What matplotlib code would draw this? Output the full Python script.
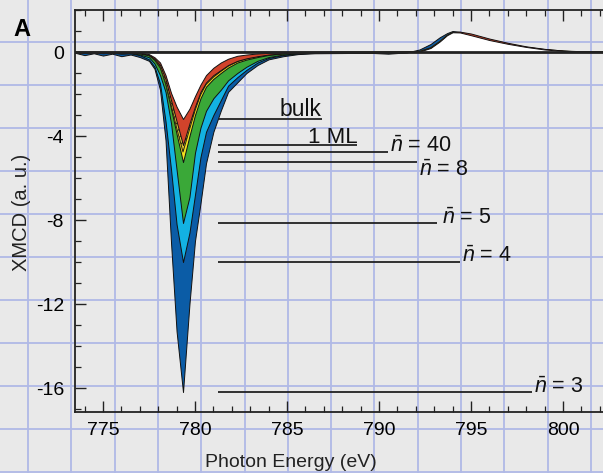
import matplotlib
matplotlib.use('Agg')
import matplotlib.pyplot as plt
import numpy as np
from matplotlib.ticker import MultipleLocator

plt.rcParams['font.family'] = ['Liberation Sans', 'DejaVu Sans']
plt.rcParams['mathtext.fontset'] = 'custom'
plt.rcParams['mathtext.rm'] = 'Liberation Sans'
plt.rcParams['mathtext.it'] = 'Liberation Sans:italic'
plt.rcParams['hatch.linewidth'] = 0.7
plt.rcParams['axes.unicode_minus'] = False

# ---------------- data ----------------
energy = [773.5, 774.0, 774.5, 775.0, 775.5, 776.0, 776.5, 777.0, 777.5, 777.8,
          778.1, 778.4, 778.7, 779.0, 779.35, 779.7, 780.0, 780.3, 780.6, 781.0,
          781.4, 781.8, 782.3, 782.8, 783.4, 784.0, 784.8, 785.6, 786.5, 788.0,
          789.5, 790.5, 791.5, 792.2, 792.8, 793.3, 793.7, 794.0, 794.4, 795.0,
          796.0, 797.0, 798.0, 799.0, 800.0, 801.0, 802.2]

n3 = [-0.04, -0.15, -0.06, -0.17, -0.08, -0.2, -0.12, -0.24, -0.42, -0.80,
      -1.80, -4.20, -9.10, -13.30, -16.19, -12.00, -9.00, -7.20, -5.30, -3.80,
      -2.80, -1.90, -1.45, -1.00, -0.62, -0.35, -0.20, -0.10, -0.06, -0.05,
      -0.04, -0.08, -0.02, 0.12, 0.38, 0.70, 0.90, 1.00, 0.96, 0.80,
      0.56, 0.38, 0.23, 0.12, 0.06, 0.02, 0.01]
n4 = [-0.03, -0.05, -0.03, -0.06, -0.04, -0.08, -0.06, -0.15, -0.35, -0.70,
      -1.50, -3.30, -5.60, -8.20, -10.00, -8.60, -6.80, -5.00, -3.80, -3.00,
      -2.30, -1.60, -1.20, -0.85, -0.50, -0.28, -0.14, -0.07, -0.04, -0.03,
      -0.02, -0.03, -0.01, 0.05, 0.22, 0.52, 0.80, 0.93, 0.93, 0.79,
      0.56, 0.38, 0.23, 0.12, 0.05, 0.015, 0.0]
n5 = [-0.02, -0.03, -0.02, -0.04, -0.03, -0.06, -0.05, -0.12, -0.25, -0.55,
      -1.10, -1.90, -3.40, -5.60, -8.14, -6.90, -4.80, -3.60, -2.80, -2.20,
      -1.80, -1.35, -1.00, -0.70, -0.42, -0.24, -0.12, -0.06, -0.03, -0.02,
      -0.02, -0.02, -0.01, 0.04, 0.21, 0.51, 0.80, 0.93, 0.93, 0.79,
      0.56, 0.38, 0.23, 0.12, 0.05, 0.015, 0.0]
n8 = [-0.01, -0.02, -0.01, -0.02, -0.02, -0.03, -0.03, -0.07, -0.16, -0.38,
      -0.75, -1.55, -2.70, -3.90, -5.24, -4.00, -3.00, -2.20, -1.65, -1.28,
      -1.00, -0.74, -0.50, -0.36, -0.24, -0.14, -0.07, -0.03, -0.02, -0.01,
      -0.01, -0.01, 0.0, 0.03, 0.20, 0.50, 0.80, 0.93, 0.92, 0.79,
      0.56, 0.38, 0.23, 0.12, 0.05, 0.015, 0.0]
n40 = [-0.01, -0.02, -0.01, -0.02, -0.02, -0.03, -0.03, -0.06, -0.15, -0.36,
       -0.70, -1.45, -2.50, -3.60, -4.76, -3.70, -2.80, -2.05, -1.55, -1.20,
       -0.93, -0.68, -0.46, -0.33, -0.22, -0.13, -0.06, -0.03, -0.02, -0.01,
       -0.01, -0.01, 0.0, 0.03, 0.20, 0.50, 0.80, 0.93, 0.92, 0.79,
       0.56, 0.38, 0.23, 0.12, 0.05, 0.015, 0.0]
ml1 = [-0.01, -0.01, -0.01, -0.02, -0.01, -0.02, -0.02, -0.05, -0.13, -0.32,
       -0.62, -1.30, -2.30, -3.30, -4.43, -3.40, -2.60, -1.90, -1.45, -1.10,
       -0.86, -0.62, -0.42, -0.30, -0.20, -0.12, -0.06, -0.03, -0.02, -0.01,
       -0.01, -0.01, 0.0, 0.03, 0.20, 0.50, 0.80, 0.95, 0.97, 0.88,
       0.64, 0.44, 0.27, 0.15, 0.07, 0.02, 0.0]
bulk = [0.0, -0.01, 0.0, -0.01, 0.0, -0.01, -0.01, -0.03, -0.10, -0.25,
        -0.50, -1.10, -1.95, -2.60, -3.19, -2.70, -2.10, -1.55, -1.10, -0.75,
        -0.50, -0.32, -0.18, -0.12, -0.07, -0.04, -0.02, -0.01, 0.0, 0.0,
        0.0, 0.0, 0.0, 0.02, 0.19, 0.50, 0.80, 0.94, 0.93, 0.80,
        0.57, 0.39, 0.24, 0.12, 0.05, 0.015, 0.0]

series = [n3, n4, n5, n8, n40, ml1, bulk]
colors = ['#0b5ca6', '#13b2e2', '#3aa838', '#f2e21e', '#e2c83a', '#d2432b', '#ffffff']
hatches = [None, None, None, None, '////', None, None]

# reference lines: depth, end energy, label, label position
ref_depth = [-3.19, -4.43, -4.76, -5.24, -8.14, -10.0, -16.19]
ref_end = [786.9, 788.8, 790.5, 792.07, 793.15, 794.4, 798.3]
ref_labels = ['bulk', '1 ML', r'$\bar{n}$ = 40', r'$\bar{n}$ = 8', r'$\bar{n}$ = 5',
              r'$\bar{n}$ = 4', r'$\bar{n}$ = 3']
label_x = [786.9, 788.85, 790.6, 792.2, 793.4, 794.5, 798.4]
label_y = [-2.72, -4.05, -4.5, -5.65, -7.95, -9.75, -15.95]
label_ha = ['right', 'right', 'left', 'left', 'left', 'left', 'left']
label_size = [16.5, 16, 15.5, 15.5, 15.5, 15.5, 15.5]
ref_start = 781.25

# ---------------- figure ----------------
W, H = 603, 473
fig = plt.figure(figsize=(W / 100, H / 100), dpi=100, facecolor='#e9e9e9')

# graph-paper background
bg = fig.add_axes([0, 0, 1, 1], zorder=-1)
bg.set_xlim(0, W)
bg.set_ylim(H, 0)
bg.axis('off')
for xv in np.arange(28, W, 43.3):
    bg.axvline(xv, color='#b0b9e6', lw=1.3)
for yv in np.arange(42, H, 43.0):
    bg.axhline(yv, color='#b0b9e6', lw=1.3)

ax = fig.add_axes([75 / W, 61 / H, (W - 75) / W, 402 / H])
ax.set_facecolor('none')

for s, c, h in zip(series, colors, hatches):
    if h:
        ax.fill_between(energy, 0, s, facecolor=c, edgecolor='#2a2410', hatch=h, lw=0.7)
    else:
        ax.fill_between(energy, 0, s, facecolor=c, edgecolor='#111111', lw=0.7)

ax.axhline(0, color='#222222', lw=2.0)

ax.hlines(ref_depth, ref_start, ref_end, color='#222222', lw=1.3)
for lx, ly, lt, ha, fs in zip(label_x, label_y, ref_labels, label_ha, label_size):
    ax.text(lx, ly, lt, ha=ha, va='center', fontsize=fs, color='#111111')

ax.set_xlim(773.48, 773.48 + 528 / 18.4)
ax.set_ylim(-17.14, 2.0)

ax.xaxis.set_major_locator(MultipleLocator(5))
ax.xaxis.set_minor_locator(MultipleLocator(1))
ax.yaxis.set_major_locator(MultipleLocator(4))
ax.yaxis.set_minor_locator(MultipleLocator(1))
ax.tick_params(which='both', direction='in', top=True, right=False, color='#222222')
ax.tick_params(which='major', length=8, width=1.0, labelsize=14)
ax.tick_params(which='minor', length=4.5, width=0.9)
ax.tick_params(axis='x', which='major', pad=7)
ax.tick_params(axis='y', which='major', pad=8)

for side in ['left', 'bottom', 'top']:
    ax.spines[side].set_linewidth(1.3)
    ax.spines[side].set_color('#222222')
ax.spines['right'].set_visible(False)

ax.set_xlabel('Photon Energy (eV)', fontsize=14, color='#222222')
ax.xaxis.set_label_coords(0.409, -0.105)
ax.set_ylabel('XMCD (a. u.)', fontsize=14.5, color='#222222')
ax.yaxis.set_label_coords(-0.083, 0.4975)

fig.text(22 / W, 1 - 30 / H, 'A', fontsize=17, fontweight='bold', ha='center', va='center')

fig.savefig('out.png', dpi=100, facecolor=fig.get_facecolor())
